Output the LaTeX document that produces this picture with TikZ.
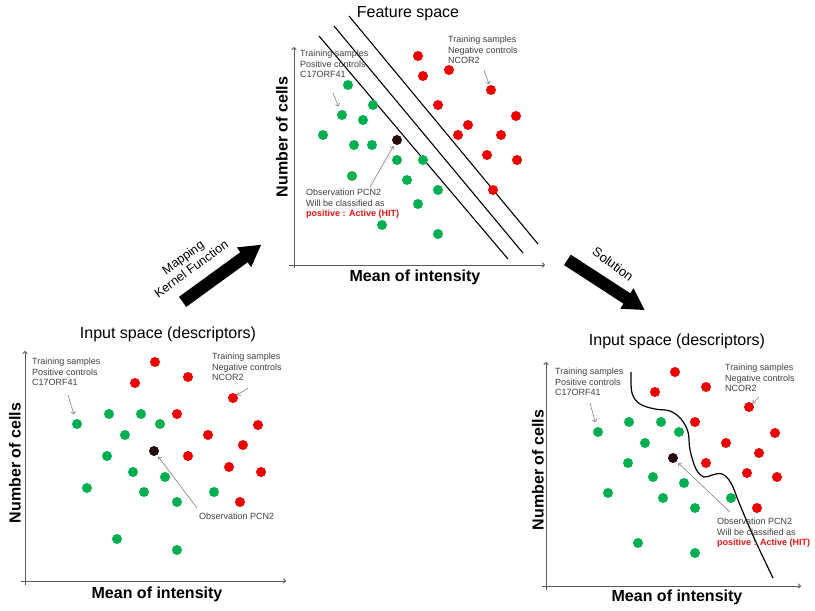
\documentclass[tikz,border=0pt]{standalone}
\usepackage{fontspec}
\setmainfont{Liberation Sans}
\usetikzlibrary{arrows.meta}
\usetikzlibrary{shapes.arrows}
\definecolor{posgreen}{RGB}{0,176,80}
\definecolor{negred}{RGB}{236,0,0}
\definecolor{obsdark}{RGB}{40,10,10}
\definecolor{notegray}{RGB}{64,64,64}
\definecolor{axisgray}{RGB}{90,90,90}
\definecolor{hitred}{RGB}{230,20,20}

\begin{document}
\begin{tikzpicture}[x=1pt,y=-1pt,>/.tip={To[length=3pt,width=5pt]},
	posdot/.style={circle,inner sep=0pt,minimum size=10pt,fill=posgreen},
	negdot/.style={circle,inner sep=0pt,minimum size=10pt,fill=negred},
	obsdot/.style={circle,inner sep=0pt,minimum size=10pt,fill=obsdark},
	notetext/.style={anchor=north west,inner sep=0pt,align=left,text=notegray,font=\fontsize{9}{10.5}\selectfont},
	paneltitle/.style={font=\fontsize{16}{18}\selectfont},
	axislabel/.style={font=\fontsize{16}{18}\selectfont\bfseries},
	axisline/.style={->,draw=axisgray,line width=0.9pt},
	pointer/.style={->,draw=gray,line width=0.6pt},
	bigarrow/.style={single arrow,fill=black,inner xsep=0pt,inner ysep=6pt,single arrow head extend=6pt,single arrow tip angle=60}]
	\useasboundingbox (0,0) rectangle (815,611);

	% feature space (top)
	\node [paneltitle] (ftitle) at (408,14) {Feature space};
	\coordinate (fybot) at (294,268);
	\coordinate (fytop) at (294,47);
	\coordinate (fxleft) at (289,265);
	\coordinate (fxright) at (545,265);
	\draw[axisline] (fybot) -- (fytop);
	\draw[axisline] (fxleft) -- (fxright);
	\node [axislabel,rotate=90] (fylabel) at (282,137) {Number of cells};
	\node [axislabel] (fxlabel) at (415,277) {Mean of intensity};

	\coordinate (fl1a) at (319,36);
	\coordinate (fl1b) at (508,259);
	\coordinate (fl2a) at (334,26);
	\coordinate (fl2b) at (523,253);
	\coordinate (fl3a) at (349,16);
	\coordinate (fl3b) at (538,244);
	\draw[line width=1.1pt] (fl1a) -- (fl1b);
	\draw[line width=1.1pt] (fl2a) -- (fl2b);
	\draw[line width=1.1pt] (fl3a) -- (fl3b);

	\draw (348,85) node (fg1) [posdot] {};
	\draw (373,105) node (fg2) [posdot] {};
	\draw (342,115) node (fg3) [posdot] {};
	\draw (363,120) node (fg4) [posdot] {};
	\draw (323,135) node (fg5) [posdot] {};
	\draw (354,145) node (fg6) [posdot] {};
	\draw (372,145) node (fg7) [posdot] {};
	\draw (397,160) node (fg8) [posdot] {};
	\draw (423,160) node (fg9) [posdot] {};
	\draw (352,176) node (fg10) [posdot] {};
	\draw (407,180) node (fg11) [posdot] {};
	\draw (438,190) node (fg12) [posdot] {};
	\draw (418,204) node (fg13) [posdot] {};
	\draw (382,225) node (fg14) [posdot] {};
	\draw (438,234) node (fg15) [posdot] {};

	\draw (418,56) node (fr1) [negdot] {};
	\draw (423,76) node (fr2) [negdot] {};
	\draw (449,70) node (fr3) [negdot] {};
	\draw (491,90) node (fr4) [negdot] {};
	\draw (438,105) node (fr5) [negdot] {};
	\draw (516,116) node (fr6) [negdot] {};
	\draw (468,125) node (fr7) [negdot] {};
	\draw (458,135) node (fr8) [negdot] {};
	\draw (501,135) node (fr9) [negdot] {};
	\draw (487,155) node (fr10) [negdot] {};
	\draw (517,160) node (fr11) [negdot] {};
	\draw (493,190) node (fr12) [negdot] {};

	\draw (397,140) node (fpcn) [obsdot] {};

	\node [notetext] (fposnote) at (300,50) {Training samples\\Positive controls\\C17ORF41};
	\node [notetext] (fnegnote) at (448,36) {Training samples\\Negative controls\\NCOR2};
	\node [notetext] (fobsnote) at (306,189) {Observation PCN2\\Will be classified as\\\textcolor{hitred}{\bfseries positive : Active (HIT)}};
	\coordinate (fpostail) at (333,93);
	\coordinate (fnegtail) at (484,70);
	\coordinate (fobstail) at (370,187);
	\draw[pointer,shorten >=4pt] (fpostail) -- (fg3);
	\draw[pointer,shorten >=1pt] (fnegtail) -- (fr4);
	\draw[pointer,shorten >=2pt] (fobstail) -- (fpcn);

	% input space (left)
	\node [paneltitle] (ititle) at (168,334) {Input space (descriptors)};
	\coordinate (iybot) at (25,585);
	\coordinate (iytop) at (25,351);
	\coordinate (ixleft) at (21,581);
	\coordinate (ixright) at (286,581);
	\draw[axisline] (iybot) -- (iytop);
	\draw[axisline] (ixleft) -- (ixright);
	\node [axislabel,rotate=90] (iylabel) at (15,463) {Number of cells};
	\node [axislabel] (ixlabel) at (157,594) {Mean of intensity};

	\draw (77,424) node (ig1) [posdot] {};
	\draw (109,414) node (ig2) [posdot] {};
	\draw (141,414) node (ig3) [posdot] {};
	\draw (160,424) node (ig4) [posdot] {};
	\draw (125,435) node (ig5) [posdot] {};
	\draw (107,456) node (ig6) [posdot] {};
	\draw (133,472) node (ig7) [posdot] {};
	\draw (165,477) node (ig8) [posdot] {};
	\draw (87,488) node (ig9) [posdot] {};
	\draw (144,492) node (ig10) [posdot] {};
	\draw (214,492) node (ig11) [posdot] {};
	\draw (177,502) node (ig12) [posdot] {};
	\draw (117,539) node (ig13) [posdot] {};
	\draw (177,550) node (ig14) [posdot] {};

	\draw (155,362) node (ir1) [negdot] {};
	\draw (188,377) node (ir2) [negdot] {};
	\draw (135,383) node (ir3) [negdot] {};
	\draw (233,398) node (ir4) [negdot] {};
	\draw (177,414) node (ir5) [negdot] {};
	\draw (258,425) node (ir6) [negdot] {};
	\draw (208,435) node (ir7) [negdot] {};
	\draw (243,445) node (ir8) [negdot] {};
	\draw (188,456) node (ir9) [negdot] {};
	\draw (229,467) node (ir10) [negdot] {};
	\draw (261,472) node (ir11) [negdot] {};
	\draw (240,502) node (ir12) [negdot] {};

	\draw (154,451) node (ipcn) [obsdot] {};

	\node [notetext] (iposnote) at (32,358) {Training samples\\Positive controls\\C17ORF41};
	\node [notetext] (inegnote) at (212,353) {Training samples\\Negative controls\\NCOR2};
	\node [notetext] (iobsnote) at (199,513) {Observation PCN2};
	\coordinate (ipostail) at (68,395);
	\coordinate (inegtail) at (248,388);
	\coordinate (iobstail) at (197,508);
	\draw[pointer,shorten >=5pt] (ipostail) -- (ig1);
	\draw[pointer,shorten >=0pt] (inegtail) -- (ir4);
	\draw[pointer,shorten >=2pt] (iobstail) -- (ipcn);

	% solution (right)
	\node [paneltitle] (stitle) at (677,341) {Input space (descriptors)};
	\coordinate (sybot) at (546,590);
	\coordinate (sytop) at (546,362);
	\coordinate (sxleft) at (542,586);
	\coordinate (sxright) at (801,586);
	\draw[axisline] (sybot) -- (sytop);
	\draw[axisline] (sxleft) -- (sxright);
	\node [axislabel,rotate=90] (sylabel) at (538,470) {Number of cells};
	\node [axislabel] (sxlabel) at (677,597) {Mean of intensity};

	\draw[line width=1.2pt] plot[smooth,tension=0.6] coordinates {(631,372) (632,393) (640,404) (655,409) (670,411) (681,419) (688,432) (690,450) (696,469) (704,477) (712,475) (722,474) (731,483) (740,505) (755,540) (773,578)};

	\draw (598,432) node (sg1) [posdot] {};
	\draw (629,422) node (sg2) [posdot] {};
	\draw (661,422) node (sg3) [posdot] {};
	\draw (679,432) node (sg4) [posdot] {};
	\draw (645,443) node (sg5) [posdot] {};
	\draw (628,463) node (sg6) [posdot] {};
	\draw (653,477) node (sg7) [posdot] {};
	\draw (684,483) node (sg8) [posdot] {};
	\draw (608,493) node (sg9) [posdot] {};
	\draw (663,498) node (sg10) [posdot] {};
	\draw (731,498) node (sg11) [posdot] {};
	\draw (695,508) node (sg12) [posdot] {};
	\draw (638,543) node (sg13) [posdot] {};
	\draw (695,553) node (sg14) [posdot] {};

	\draw (675,372) node (sr1) [negdot] {};
	\draw (706,387) node (sr2) [negdot] {};
	\draw (655,392) node (sr3) [negdot] {};
	\draw (749,407) node (sr4) [negdot] {};
	\draw (695,422) node (sr5) [negdot] {};
	\draw (775,433) node (sr6) [negdot] {};
	\draw (726,443) node (sr7) [negdot] {};
	\draw (759,453) node (sr8) [negdot] {};
	\draw (706,463) node (sr9) [negdot] {};
	\draw (747,473) node (sr10) [negdot] {};
	\draw (777,477) node (sr11) [negdot] {};
	\draw (757,508) node (sr12) [negdot] {};

	\draw (673,458) node (spcn) [obsdot] {};

	\node [notetext] (sposnote) at (555,368) {Training samples\\Positive controls\\C17ORF41};
	\node [notetext] (snegnote) at (725,364) {Training samples\\Negative controls\\NCOR2};
	\node [notetext] (sobsnote) at (717,518) {Observation PCN2\\Will be classified as\\\textcolor{hitred}{\bfseries positive : Active (HIT)}};
	\coordinate (spostail) at (590,403);
	\coordinate (snegtail) at (759,397);
	\coordinate (sobstail) at (730,512);
	\draw[pointer,shorten >=5pt] (spostail) -- (sg1);
	\draw[pointer,shorten >=0pt] (snegtail) -- (sr4);
	\draw[pointer,shorten >=2pt] (sobstail) -- (spcn);

	% big arrows between panels
	\node [bigarrow,minimum height=97pt,rotate=36] (maparrow) at (217.5,276.5) {};
	\node [rotate=36,align=center,font=\fontsize{12.5}{14}\selectfont] (maplabel) at (187,263) {Mapping\\Kernel Function};
	\node [bigarrow,minimum height=92pt,rotate=-33] (solarrow) at (601.5,282) {};
	\node [rotate=-36,font=\fontsize{13}{15}\selectfont] (sollabel) at (613,264) {Solution};
\end{tikzpicture}
\end{document}
